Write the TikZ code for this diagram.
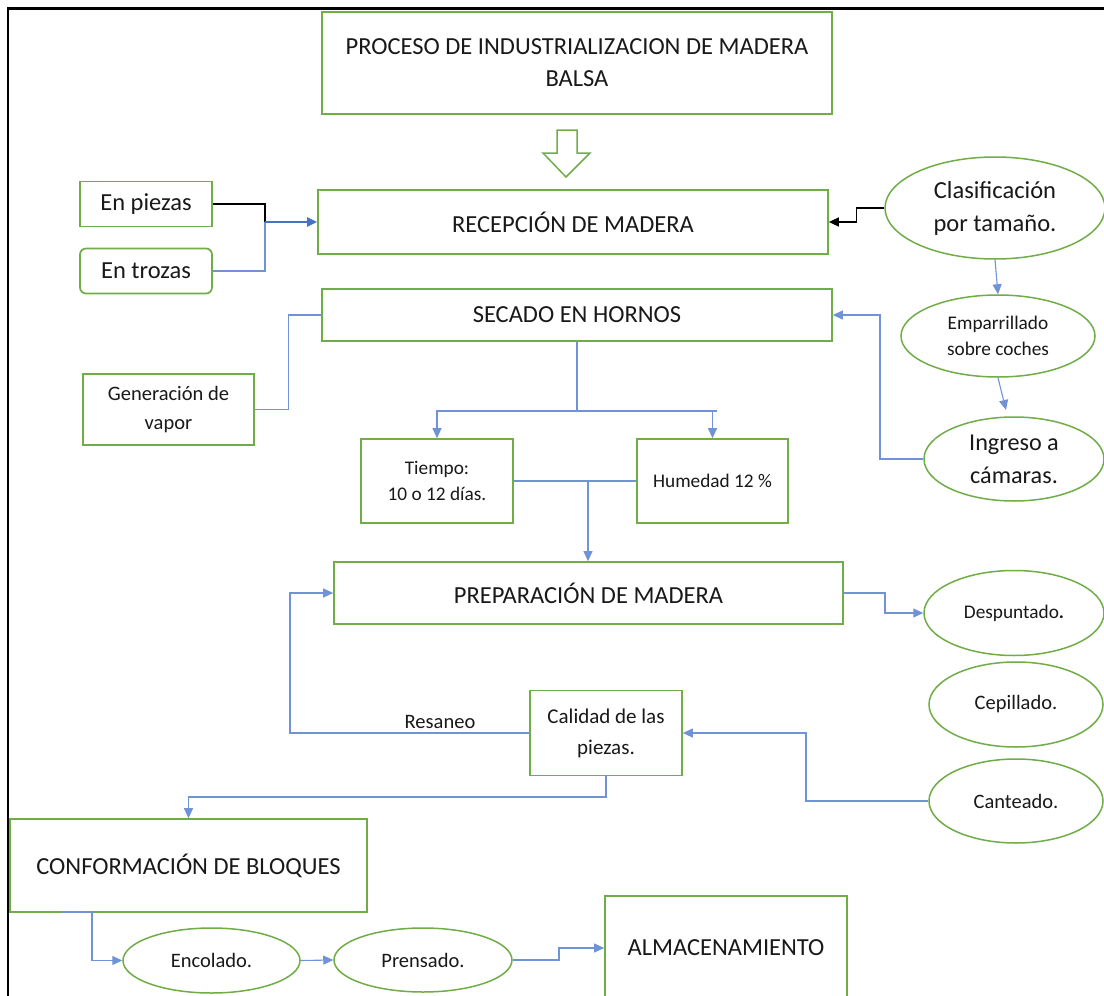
\documentclass[tikz,border=0pt]{standalone}
\usepackage{fontspec}
\setmainfont{Carlito}
\usetikzlibrary{arrows.meta,shapes.geometric,calc}
\definecolor{gr}{HTML}{70AD47}
\definecolor{bl}{HTML}{4472C4}
\definecolor{lbl}{HTML}{6F93D6}
\begin{document}
\begin{tikzpicture}[x=1pt,y=-1pt,
  big/.style={font=\fontsize{24.5}{32}\selectfont},
  med/.style={font=\fontsize{20.5}{29}\selectfont},
  sml/.style={font=\fontsize{19.3}{26}\selectfont},
  gbox/.style={draw=gr,line width=1.7pt,rectangle,inner sep=0pt,align=center,text=black!90},
  gell/.style={draw=gr,line width=1.5pt,ellipse,inner sep=0pt,align=center,text=black!90},
  conn/.style={draw=lbl,line width=1.1pt},
  blk/.style={draw=black,line width=1.5pt},
  arr/.style={-{Triangle[length=10pt,width=9pt]}},
  lab/.style={inner sep=0pt,text=black!90}]
\useasboundingbox (0,0) rectangle (1104,996);
\fill[white] (0,0) rectangle (1104,996);
% frame
\draw[line width=2.6pt] (8,996) -- (8,8.5) -- (1104,8.5);
% nodes
\node[gbox,big,minimum width=510pt,minimum height=102pt] (title) at (577,63) {PROCESO DE INDUSTRIALIZACION DE MADERA\\BALSA};
\draw[draw=gr,line width=1.5pt] (557,130) -- (577,130) -- (577,153) -- (590,153) -- (566,177) -- (543,153) -- (557,153) -- cycle;
\node[gbox,big,minimum width=132pt,minimum height=45pt] (piezas) at (146,204) {En piezas};
\node[gbox,big,minimum width=132pt,minimum height=45pt,rounded corners=6pt] (trozas) at (146,271) {En trozas};
\node[gbox,big,minimum width=510pt,minimum height=64pt] (recep) at (573,222) {RECEPCIÓN DE MADERA};
\node[gbox,big,minimum width=510pt,minimum height=52pt] (secado) at (577,315) {SECADO EN HORNOS};
\node[gbox,med,minimum width=171pt,minimum height=71pt] (vapor) at (168.5,409.5) {Generación de\\vapor};
\node[gbox,sml,minimum width=152pt,minimum height=84pt] (tiempo) at (437,481) {Tiempo:\\10 o 12 días.};
\node[gbox,sml,minimum width=151pt,minimum height=84pt] (humedad) at (712.5,481) {Humedad 12 \%};
\node[gbox,big,minimum width=509pt,minimum height=62pt] (prep) at (588.5,593) {PREPARACIÓN DE MADERA};
\node[gbox,med,font=\fontsize{21}{31}\selectfont,minimum width=152pt,minimum height=85pt] (calidad) at (606,733) {Calidad de las\\piezas.};
\node[gbox,big,minimum width=357pt,minimum height=93pt] (conf) at (188.5,865.5) {CONFORMACIÓN DE BLOQUES};
\node[gbox,big,minimum width=242pt,minimum height=104pt] (alm) at (726,948) {ALMACENAMIENTO};
\node[gell,big,font=\fontsize{24.5}{33}\selectfont,minimum width=220pt,minimum height=102pt] (clas) at (995,208) {Clasificación\\por tamaño.};
\node[gell,sml,minimum width=194pt,minimum height=82pt] (empar) at (998,336) {Emparrillado\\sobre coches};
\node[gell,big,font=\fontsize{24.2}{33}\selectfont,minimum width=180pt,minimum height=84pt] (ingreso) at (1014,459) {Ingreso a\\cámaras.};
\node[gell,sml,minimum width=180pt,minimum height=85pt] (desp) at (1014,613) {Despuntado\textbf{.}};
\node[gell,med,minimum width=174pt,minimum height=85pt] (cepi) at (1016,704.5) {Cepillado.};
\node[gell,med,minimum width=174pt,minimum height=84pt] (cant) at (1016,801) {Canteado.};
\node[gell,med,minimum width=177pt,minimum height=65pt] (encol) at (211.5,960.5) {Encolado.};
\node[gell,med,minimum width=178pt,minimum height=64pt] (prens) at (423,960) {Prensado.};
% helper coordinates
\coordinate (j1) at (265,222);
\coordinate (j2) at (577,411);
\coordinate (j2r) at (717,411);
\coordinate (j3) at (588,481);
\coordinate (e1) at (1006,410);
\coordinate (c1) at (61,912);
% connectors
\draw[blk] (piezas.east) -| (j1);
\draw[conn] (trozas.east) -| (j1);
\draw[draw=bl,line width=2pt,arr] (j1) -- (recep.west);
\draw[blk,arr] (clas.west) -- ++(-28,0) |- (recep.east);
\draw[conn,arr] (clas.south) -- (empar.north);
\draw[conn,arr] (empar.south) -- (e1);
\draw[conn,arr] (ingreso.west) -- (880,459) |- (secado.east);
\draw[conn] (vapor.east) -- ++(34,0) |- (secado.west);
\draw[conn] (secado.south) -- (j2);
\draw[conn] (j2) -- (j2r);
\draw[conn,arr] (j2) -| (tiempo.north);
\draw[conn,arr] (j2) -| (humedad.north);
\draw[conn] (tiempo.east) -- (humedad.west);
\draw[conn,arr] (j3) -- (j3 |- prep.north);
\draw[conn,arr] (prep.east) -- (885,593) |- (desp.west);
\draw[conn,arr] (cant.west) -- (806,801) |- (calidad.east);
\draw[conn,arr] (calidad.west) -- (290,733) |- (prep.west);
\node[lab,med] (resaneo) at (440,722) {Resaneo};
\draw[conn,arr] (calidad.south) -- (606,797) -| (conf.north);
\draw[conn,arr] (c1) -- (92,912) |- (encol.west);
\draw[conn,arr] (encol.east) -- (prens.west);
\draw[conn,arr] (prens.east) -- (559,960) |- (alm.west);
\end{tikzpicture}
\end{document}
